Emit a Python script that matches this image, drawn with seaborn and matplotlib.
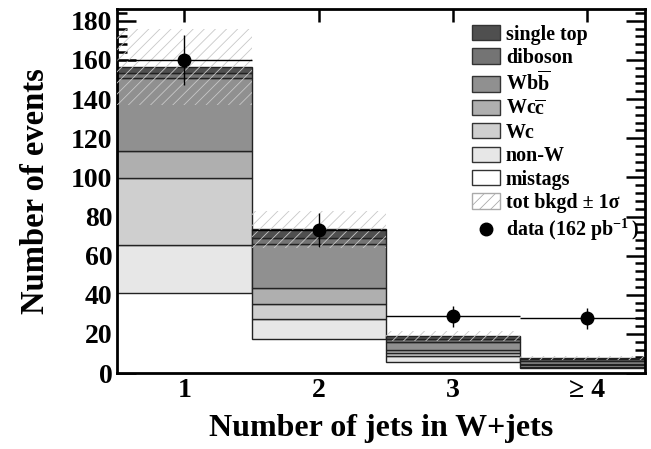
import matplotlib
matplotlib.use("Agg")
import matplotlib.pyplot as plt
from matplotlib.patches import Patch
from matplotlib.lines import Line2D
from matplotlib.ticker import MultipleLocator
import numpy as np
import pandas as pd
import seaborn as sns

# jet multiplicity bins
njets = [1, 2, 3, 4]
jet_labels = ["1", "2", "3", "\u2265 4"]

# background contributions per bin (bottom of stack first)
mistags = [41.0, 17.2, 5.5, 2.6]
non_w = [24.4, 10.4, 3.0, 0.7]
wc = [34.3, 7.9, 1.7, 0.6]
wcc = [13.8, 7.9, 1.7, 0.7]
wbb = [37.0, 22.6, 4.1, 1.8]
diboson = [2.9, 3.0, 1.3, 0.6]
single_top = [2.9, 4.4, 1.5, 0.7]

bkg_err = [19.5, 9.6, 2.5, 0.9]
data = [160, 73, 29, 28]

sns.set_style("ticks")
plt.rcParams["font.family"] = ["Liberation Serif", "DejaVu Serif"]
plt.rcParams["font.weight"] = "bold"
plt.rcParams["mathtext.fontset"] = "custom"
plt.rcParams["mathtext.rm"] = "Liberation Serif:bold"
plt.rcParams["mathtext.bf"] = "Liberation Serif:bold"
plt.rcParams["hatch.linewidth"] = 0.6
for key in ["text.color", "axes.labelcolor", "xtick.color", "ytick.color", "axes.edgecolor"]:
    plt.rcParams[key] = "black"

procs = {
    "single top": single_top,
    "diboson": diboson,
    r"$\mathbf{Wb\overline{b}}$": wbb,
    r"$\mathbf{Wc\overline{c}}$": wcc,
    "Wc": wc,
    "non-W": non_w,
    "mistags": mistags,
}
colors = ["#4f4f4f", "#747474", "#909090", "#afafaf", "#cfcfcf", "#e7e7e7", "#ffffff"]
palette = dict(zip(procs.keys(), colors))

rows = []
for name, vals in procs.items():
    for n, v in zip(njets, vals):
        rows.append({"njets": n, "events": v, "process": name})
df = pd.DataFrame(rows)

fig, ax = plt.subplots(figsize=(6.51, 4.49), dpi=100)
fig.subplots_adjust(left=0.18, right=0.991, top=0.98, bottom=0.169)

sns.histplot(data=df, x="njets", weights="events", hue="process",
             hue_order=list(procs.keys()), multiple="stack", discrete=True,
             shrink=1, palette=palette, edgecolor="#222222", linewidth=1.0,
             alpha=1, legend=False, ax=ax)

# mistags are drawn without an outline
for p in ax.patches:
    if p.get_facecolor()[:3] == (1.0, 1.0, 1.0):
        p.set_edgecolor("none")

# total background +- 1 sigma band
total = np.sum([np.array(v) for v in procs.values()], axis=0)
err = np.array(bkg_err)
ax.bar(njets, 2 * err, bottom=total - err, width=1.0, fill=False,
       edgecolor="#c8c8c8", hatch="///", linewidth=0, zorder=3)

# data
ax.errorbar(njets, data, yerr=np.sqrt(data), xerr=0.5, fmt="o",
            color="black", ms=9, elinewidth=1.0, capsize=0, zorder=5)

ax.set_xlim(0.5, 4.43)
ax.set_ylim(0, 186)
ax.set_xticks(njets)
ax.set_xticklabels(jet_labels)
ax.yaxis.set_major_locator(MultipleLocator(20))
ax.yaxis.set_minor_locator(MultipleLocator(4))
ax.tick_params(axis="both", which="both", direction="in", top=True, right=True,
               labelsize=20, width=1.8)
ax.tick_params(axis="y", which="major", length=14)
ax.tick_params(axis="y", which="minor", length=7)
ax.tick_params(axis="x", which="major", length=9)
ax.tick_params(axis="x", which="minor", length=0)
for s in ax.spines.values():
    s.set_linewidth(2)
    s.set_visible(True)

ax.set_xlabel("Number of jets in W+jets", fontsize=23, fontweight="bold", labelpad=8)
ax.set_ylabel("Number of events", fontsize=23.5, fontweight="bold", labelpad=14)

handles = [Patch(facecolor=c, edgecolor="#333333", linewidth=1.0) for c in colors]
labels = list(procs.keys())
handles.append(Patch(facecolor="white", edgecolor="#aaaaaa", hatch="///", linewidth=1.0))
labels.append("tot bkgd \u00b1 1\u03c3")
handles.append(Line2D([], [], marker="o", color="black", linestyle="none", ms=9))
labels.append(r"data (162 pb$^{\mathbf{-1}}\,$)")
ax.legend(handles, labels, loc="upper left", bbox_to_anchor=(0.672, 0.957),
          frameon=False, borderpad=0, borderaxespad=0,
          handlelength=1.4, handleheight=0.8, handletextpad=0.3,
          labelspacing=0.17, prop={"weight": "bold", "size": 14.4})

fig.savefig("out.png", dpi=100)
